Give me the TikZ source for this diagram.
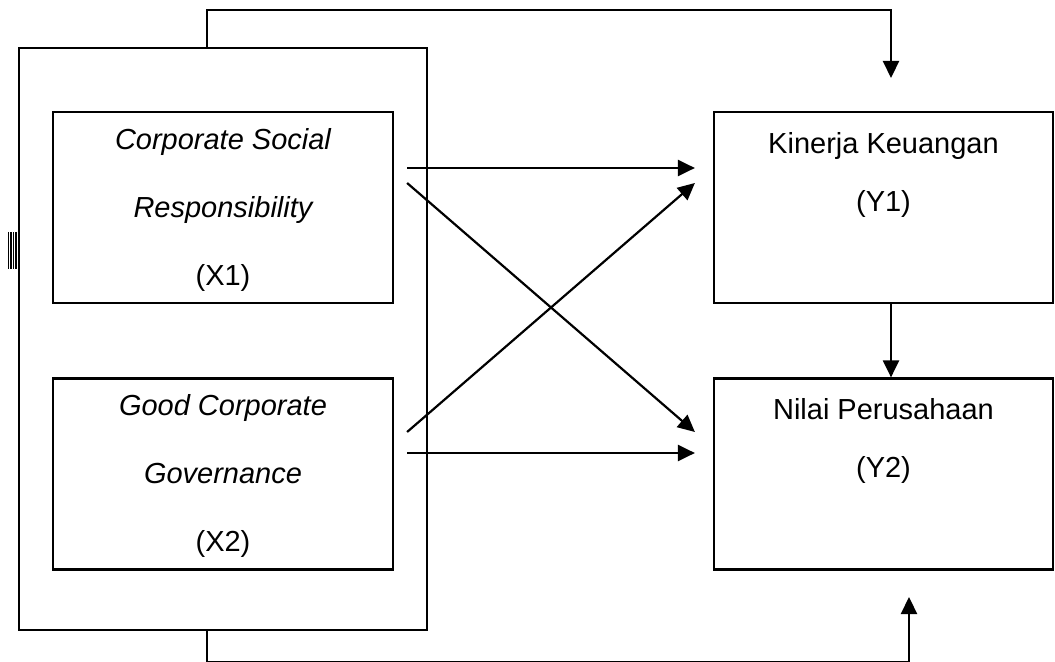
\documentclass[tikz,border=0pt]{standalone}
\usepackage{fontspec}
\setmainfont{Liberation Sans}
\usetikzlibrary{arrows.meta, positioning}
\begin{document}
\begin{tikzpicture}[
		x=0.5pt, y=-0.5pt,
		box/.style={draw=black, minimum width=170pt, minimum height=95.5pt, inner sep=0pt},
		xtext/.style={font=\fontsize{14.5}{34}\selectfont, align=center, anchor=north, inner sep=0pt},
		ytext/.style={font=\fontsize{14.5}{29}\selectfont, align=center, anchor=north, inner sep=0pt},
		>={Triangle[length=8.5pt, width=8pt]},
		line width=1.1pt % all lines about 2px in the picture
		]
		\useasboundingbox (0,0) rectangle (1055,662);
		
		% Boxes
		\node[box, minimum width=204pt, minimum height=291pt] (outer) at (223,339) {};
		\node[box] (X1) at (223,207.5) {};
		\node[box] (X2) at (223,474) {};
		\node[box, minimum width=169.5pt] (Y1) at (883.5,207.5) {};
		\node[box, minimum width=169.5pt] (Y2) at (883.5,474) {};
		
		% Texts
		\node[xtext] (X1t) at ([yshift=-8pt]X1.north) {{\itshape Corporate Social}\\{\itshape Responsibility}\\(X1)};
		\node[xtext] (X2t) at ([yshift=-8pt]X2.north) {{\itshape Good Corporate}\\{\itshape Governance}\\(X2)};
		\node[ytext] (Y1t) at ([yshift=-10pt]Y1.north) {Kinerja Keuangan\\(Y1)};
		\node[ytext] (Y2t) at ([yshift=-10pt]Y2.north) {Nilai Perusahaan\\(Y2)};
		
		% small mark at the left
		\foreach \i in {8.5,11,13.5,16}
		\draw[line width=0.6pt] (\i,232) -- (\i,269);
		
		% Free ends of the outer lines
		\coordinate (topin) at (891,78);
		\coordinate (botin) at (909,597);
		
		% Outer lines
		\draw[->] ([xshift=-8pt]outer.north) -- ++(0,-37) -| (topin);
		\draw[->] ([xshift=-8pt]outer.south) -- ++(0,31) -| (botin);
		
		% Straight arrows
		\draw[->] ([shift={(6.5pt,19.75pt)}]X1.east) -- ([shift={(-9pt,19.75pt)}]Y1.west);
		\draw[->] ([shift={(6.5pt,10.5pt)}]X2.east) -- ([shift={(-9pt,10.5pt)}]Y2.west);
		
		% Crossing arrows
		\draw[->] ([shift={(6.5pt,12.25pt)}]X1.east) -- ([shift={(-9pt,21pt)}]Y2.west);
		\draw[->] ([shift={(6.5pt,21pt)}]X2.east) -- ([shift={(-9pt,12.25pt)}]Y1.west);
		
		\draw[->] ([xshift=3.75pt]Y1.south) -- ([xshift=3.75pt]Y2.north);
		
	\end{tikzpicture}
\end{document}
